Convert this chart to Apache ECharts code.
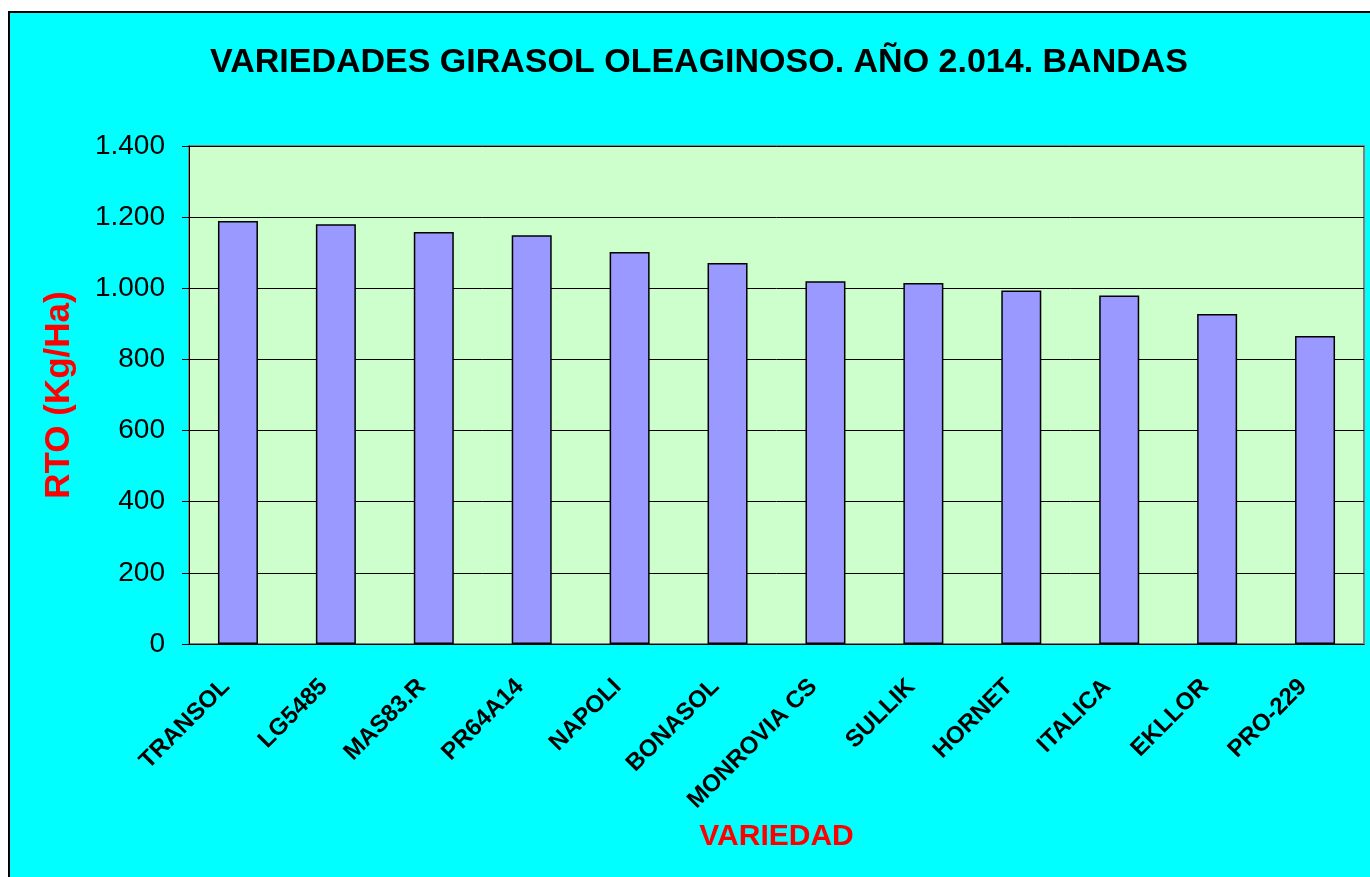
<!DOCTYPE html>
<html>
<head>
<meta charset="utf-8">
<style>
  html, body { margin: 0; padding: 0; background: #ffffff; }
  #frame {
    position: absolute; left: 8px; top: 11px; width: 1370px; height: 877px;
    background: #00ffff; border-left: 2px solid #000; border-top: 2px solid #000;
  }
  #barChart { position: absolute; left: 0; top: 0; width: 1370px; height: 877px; }
</style>
<script src="https://cdn.jsdelivr.net/npm/echarts@6/dist/echarts.min.js"></script>
</head>
<body>
<div id="frame"></div>
<div id="barChart"></div>
<script>
// variedades y rendimiento (Kg/Ha)
var varieties = ["TRANSOL", "LG5485", "MAS83.R", "PR64A14", "NAPOLI", "BONASOL",
  "MONROVIA CS", "SULLIK", "HORNET", "ITALICA", "EKLLOR", "PRO-229"];
var yields = [1189, 1180, 1158, 1149, 1102, 1071, 1020, 1015, 994, 980, 928, 866];

var font = "'Liberation Sans', Arial, sans-serif";

var myChart = echarts.init(document.getElementById("barChart"));
var option = {
  backgroundColor: "transparent",
  animation: false,
  title: {
    text: "VARIEDADES GIRASOL OLEAGINOSO. AÑO 2.014. BANDAS",
    left: 694,
    top: 41,
    textAlign: "center",
    textStyle: { fontFamily: font, fontSize: 34, fontWeight: "bold", color: "#000" }
  },
  grid: {
    left: 189,
    right: 6,
    top: 146,
    bottom: 233,
    show: true,
    backgroundColor: "#ccffcc",
    borderColor: "#808080",
    borderWidth: 2
  },
  xAxis: {
    type: "category",
    data: varieties,
    name: "VARIEDAD",
    nameLocation: "middle",
    nameGap: 178,
    nameTextStyle: { fontFamily: font, fontSize: 30, fontWeight: "bold", color: "#ff0000" },
    axisLine: { lineStyle: { color: "#000", width: 1 } },
    axisTick: { length: 7, lineStyle: { color: "#000" } },
    axisLabel: {
      rotate: 45,
      interval: 0,
      margin: 27,
      padding: [0, 17, 0, 0],
      fontFamily: font,
      fontSize: 24,
      fontWeight: "bold",
      color: "#000"
    }
  },
  yAxis: {
    type: "value",
    min: 0,
    max: 1400,
    interval: 200,
    name: "RTO (Kg/Ha)",
    nameLocation: "middle",
    nameGap: 112,
    nameTextStyle: { fontFamily: font, fontSize: 35, fontWeight: "bold", color: "#ff0000" },
    axisLine: { show: true, lineStyle: { color: "#000", width: 1 } },
    axisTick: { show: true, length: 7, lineStyle: { color: "#000" } },
    axisLabel: {
      margin: 24,
      fontFamily: font,
      fontSize: 28,
      color: "#000",
      formatter: function(v) {
        return v >= 1000 ? Math.floor(v / 1000) + "." + String(v % 1000).padStart(3, "0") : String(v);
      }
    },
    splitLine: { lineStyle: { color: "#000", width: 1 } }
  },
  series: [
    {
      type: "bar",
      data: yields,
      barWidth: 40,
      itemStyle: { color: "#9999ff", borderColor: "#000", borderWidth: 1.5 }
    }
  ]
};
myChart.setOption(option);
</script>
</body>
</html>
